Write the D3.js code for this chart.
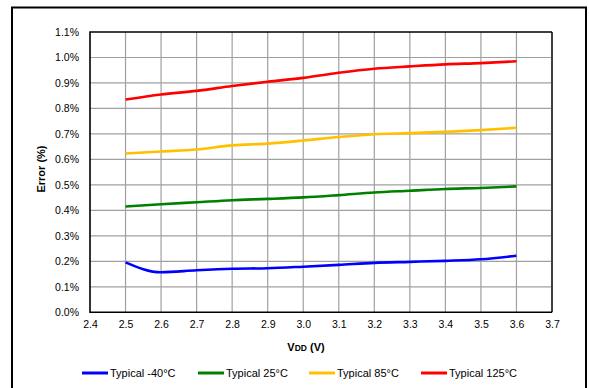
<!DOCTYPE html>
<html><head><meta charset="utf-8">
<script src="https://cdn.jsdelivr.net/npm/d3@7"></script>
<style>body{margin:0;background:#fff}svg{display:block}text{font-family:"Liberation Sans",Arial,sans-serif}</style>
</head><body>
<svg id="c" width="589" height="388"></svg>
<script>
const vdd = [2.5,2.6,2.7,2.8,2.9,3.0,3.1,3.2,3.3,3.4,3.5,3.6];
const typM40 = [0.196,0.157,0.165,0.171,0.173,0.179,0.186,0.194,0.198,0.202,0.208,0.222];
const typ25  = [0.415,0.424,0.432,0.440,0.445,0.451,0.460,0.470,0.477,0.484,0.488,0.494];
const typ85  = [0.623,0.631,0.639,0.655,0.662,0.674,0.688,0.699,0.703,0.708,0.715,0.724];
const typ125 = [0.835,0.855,0.869,0.888,0.905,0.920,0.940,0.956,0.965,0.973,0.978,0.985];
const seriesNames = ["Typical -40°C","Typical 25°C","Typical 85°C","Typical 125°C"];
const seriesColors = ["#0000ff","#008000","#ffc000","#ff0000"];
const xTicks = [2.4,2.5,2.6,2.7,2.8,2.9,3.0,3.1,3.2,3.3,3.4,3.5,3.6,3.7];
const yTicks = [0,0.1,0.2,0.3,0.4,0.5,0.6,0.7,0.8,0.9,1.0,1.1];

const svg = d3.select("#c");
// outer frame
svg.append("rect").attr("x",12).attr("y",7.5).attr("width",574).attr("height",400)
  .attr("fill","none").attr("stroke","#000").attr("stroke-width",2);

const L=90,R=552,T=32,B=312.3;
const x = d3.scaleLinear().domain([2.4,3.7]).range([L,R]);
const y = d3.scaleLinear().domain([0,1.1]).range([B,T]);

const g = svg.append("g");
// grid
g.selectAll(".vg").data(xTicks.slice(1,-1)).join("line")
  .attr("x1",d=>x(d)).attr("x2",d=>x(d)).attr("y1",T).attr("y2",B)
  .attr("stroke","#a0a0a0").attr("stroke-width",1.2);
g.selectAll(".hg").data(yTicks.slice(1,-1)).join("line")
  .attr("y1",d=>y(d)).attr("y2",d=>y(d)).attr("x1",L).attr("x2",R)
  .attr("stroke","#a0a0a0").attr("stroke-width",1.2);

// axes via d3
const xAxis = d3.axisBottom(x).tickValues(xTicks).tickSize(0).tickPadding(8).tickFormat(d3.format(".1f"));
const ya = d3.axisLeft(y).tickValues(yTicks).tickSize(0).tickPadding(11).tickFormat(d=>d3.format(".1f")(d)+"%");
const gx = svg.append("g").attr("transform",`translate(0,${B})`).call(xAxis);
const gy = svg.append("g").attr("transform",`translate(${L},0)`).call(ya);
[gx,gy].forEach(a=>{a.select(".domain").remove();a.selectAll("text").attr("font-size","10.5px").attr("fill","#000").attr("font-family","Liberation Sans, Arial, sans-serif");});

// plot border
svg.append("line").attr("x1",R).attr("x2",R).attr("y1",T).attr("y2",B).attr("stroke","#404040").attr("stroke-width",2);
svg.append("path").attr("d",`M${R},${T}H${L}V${B}H${R}`).attr("fill","none").attr("stroke","#000").attr("stroke-width",1.6);

// lines
const data = [typM40,typ25,typ85,typ125];
const line = d3.line().x((d,i)=>x(vdd[i])).y(d=>y(d)).curve(d3.curveMonotoneX);
svg.selectAll(".ser").data(data).join("path")
  .attr("d",d=>line(d)).attr("fill","none")
  .attr("stroke",(d,i)=>seriesColors[i]).attr("stroke-width",2.6).attr("stroke-linecap","butt");

// y title
svg.append("text").attr("transform","translate(45,169) rotate(-90)").attr("text-anchor","middle")
  .attr("font-size","11px").attr("font-weight","bold").text("Error (%)");
// x title
const xt = svg.append("text").attr("x",306).attr("y",351).attr("text-anchor","middle")
  .attr("font-size","11px").attr("font-weight","bold");
xt.append("tspan").text("V");
xt.append("tspan").attr("font-size","8.5px").text("DD");
xt.append("tspan").text(" (V)");

// legend
const legX = [82,198,309,421];
const lg = svg.selectAll(".leg").data(seriesNames).join("g").attr("transform",(d,i)=>`translate(${legX[i]},373)`);
lg.append("line").attr("x1",0).attr("x2",26).attr("stroke",(d,i)=>seriesColors[i]).attr("stroke-width",3);
lg.append("text").attr("x",28).attr("y",4).attr("font-size","11px").text(d=>d);
</script>
</body></html>
